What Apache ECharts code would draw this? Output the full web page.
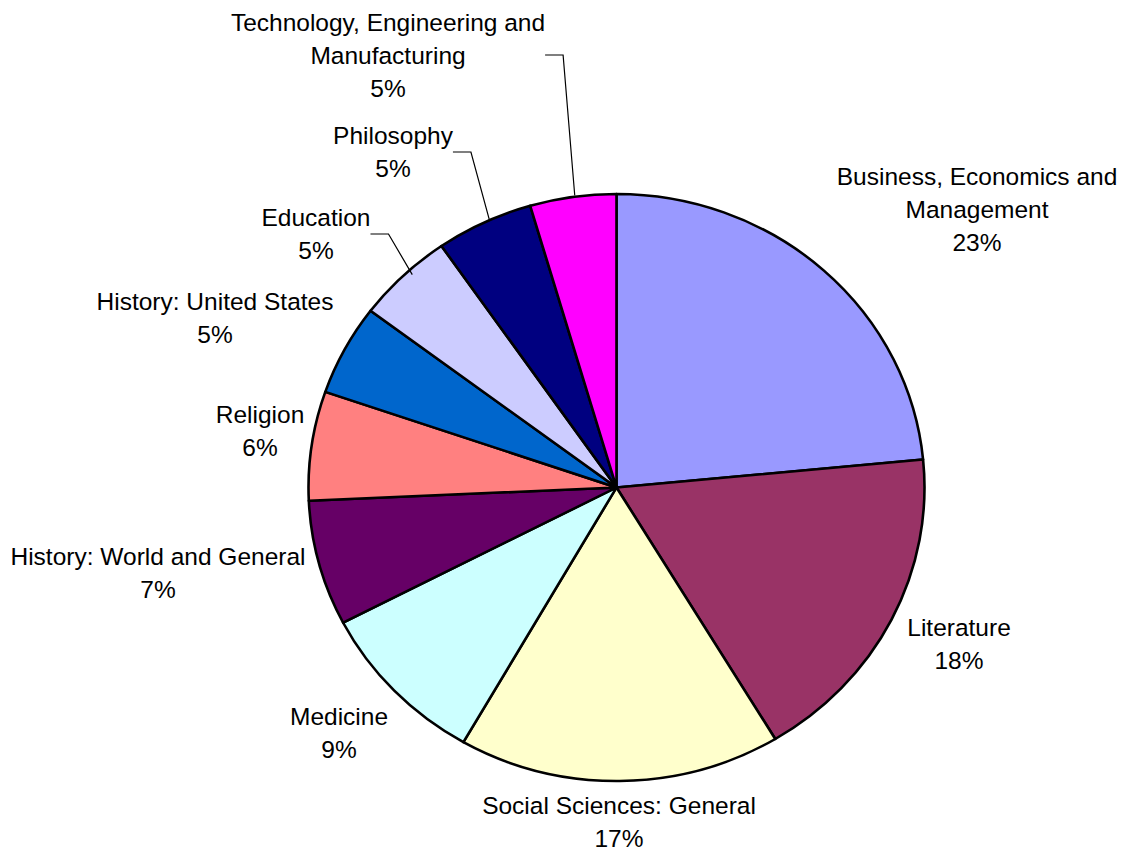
<!DOCTYPE html>
<html>
<head>
<meta charset="utf-8">
<script src="https://cdn.jsdelivr.net/npm/echarts@6/dist/echarts.min.js"></script>
<style>
  html, body { margin: 0; padding: 0; background: #fff; }
  #wrap { position: relative; width: 1121px; height: 850px; overflow: hidden; background: #fff; }
  #pieA { position: absolute; left: 0; top: 0; width: 1121px; height: 892px; transform: scale(1, 0.95292); transform-origin: 0 0; }
  #pieB { position: absolute; left: 0; top: 0; width: 1121px; height: 850px; }
</style>
</head>
<body>
<div id="wrap">
  <div id="pieA"></div>
  <div id="pieB"></div>
</div>
<script>
// ---- data ----
const categories = [
  "Business, Economics and\nManagement",
  "Literature",
  "Social Sciences: General",
  "Medicine",
  "History: World and General",
  "Religion",
  "History: United States",
  "Education",
  "Philosophy",
  "Technology, Engineering and\nManufacturing"
];
const shares = [23.48, 17.9, 16.9, 9.1, 6.9, 6.0, 5.0, 5.1, 5.1, 4.52];

// ---- styles / layout (kept separate from data) ----
const colors = ["#9999FF", "#993366", "#FFFFCC", "#CCFFFF", "#660066",
                "#FF8080", "#0066CC", "#CCCCFF", "#000080", "#FF00FF"];
const labelCenters = [
  [977, 209], [959, 644], [619, 822], [339, 733], [158, 573],
  [260, 431], [215, 318], [316, 234], [393, 152], [388, 55]
];
const showLeader = [false, false, false, false, false, false, false, true, true, true];

const cx = 616.5, cy = 487.5, rx = 308, ry = 293.5;
const sy = ry / rx;

// Chart A: slices, drawn as a circle and squeezed vertically into the reference's ellipse
const chartA = echarts.init(document.getElementById('pieA'), null, { renderer: 'svg' });
chartA.setOption({
  animation: false,
  backgroundColor: 'transparent',
  series: [{
    type: 'pie',
    center: [cx, cy / sy],
    radius: rx,
    startAngle: 90,
    clockwise: true,
    silent: true,
    label: { show: false },
    labelLine: { show: false },
    itemStyle: { borderColor: '#000', borderWidth: 2.6, borderJoin: 'round' },
    data: categories.map((n, i) => ({ name: n, value: shares[i], itemStyle: { color: colors[i] } }))
  }]
});

// Chart B: labels and leader lines on transparent slices
const chartB = echarts.init(document.getElementById('pieB'), null, { renderer: 'svg' });
chartB.setOption({
  animation: false,
  backgroundColor: 'transparent',
  series: [{
    type: 'pie',
    center: [cx, cy],
    radius: 295,
    startAngle: 90,
    clockwise: true,
    silent: true,
    avoidLabelOverlap: false,
    itemStyle: { color: 'rgba(0,0,0,0)', borderWidth: 0 },
    label: {
      show: true,
      position: 'outside',
      fontFamily: 'Liberation Sans, Arial, sans-serif',
      fontSize: 24.5,
      lineHeight: 33,
      color: '#000',
      align: 'center',
      formatter: p => p.name + '\n' + Math.round(p.percent) + '%'
    },
    labelLine: { show: false, length: 10, length2: 18, lineStyle: { color: '#000', width: 1.2 } },
    labelLayout: function (params) {
      const c = labelCenters[params.dataIndex];
      return { x: c[0], y: c[1], align: 'center', verticalAlign: 'middle', hideOverlap: false, moveOverlap: null };
    },
    data: categories.map((n, i) => ({
      name: n,
      value: shares[i],
      labelLine: { show: showLeader[i] }
    }))
  }]
});
</script>
</body>
</html>
